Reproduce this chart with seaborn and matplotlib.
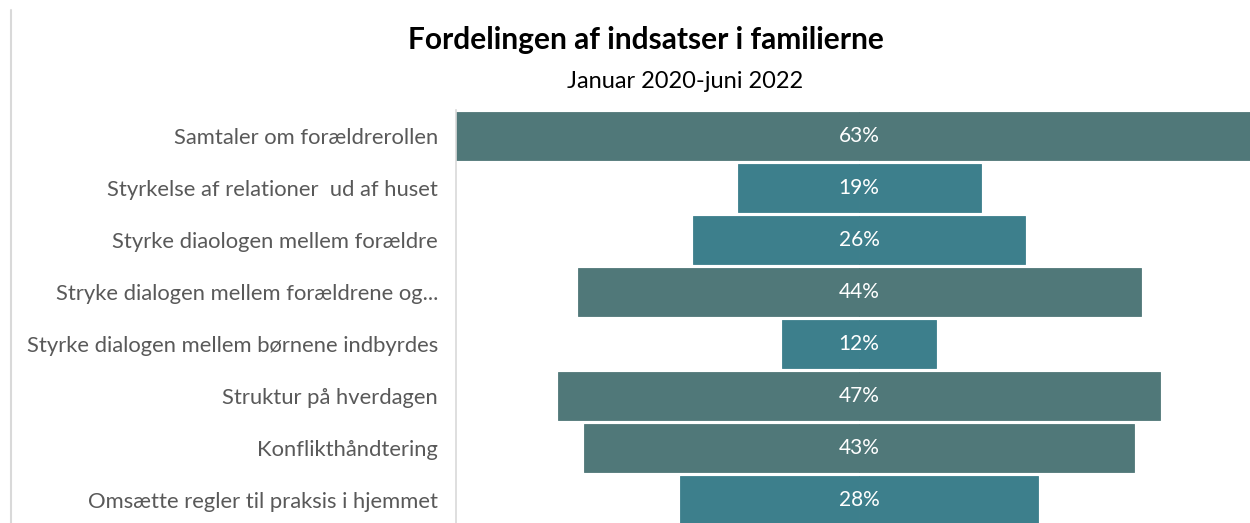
import matplotlib
matplotlib.use("Agg")
import matplotlib.pyplot as plt
import seaborn as sns
import pandas as pd
import numpy as np

categories = [
    "Samtaler om forældrerollen",
    "Styrkelse af relationer  ud af huset",
    "Styrke diaologen mellem forældre",
    "Stryke dialogen mellem forældrene og...",
    "Styrke dialogen mellem børnene indbyrdes",
    "Struktur på hverdagen",
    "Konflikthåndtering",
    "Omsætte regler til praksis i hjemmet",
]
values = [63, 19, 26, 44, 12, 47, 43, 28]
labels = ["63%", "19%", "26%", "44%", "12%", "47%", "43%", "28%"]

dark = "#507879"
light = "#3D7F8C"
bar_colors = [dark, light, light, dark, light, dark, dark, light]

sns.set_theme(style="white")
plt.rcParams["font.family"] = ["Lato", "DejaVu Sans"]

df = pd.DataFrame({"cat": categories, "val": values})
df["half"] = df["val"] / 2
df["neg"] = -df["val"] / 2
palette = dict(zip(categories, bar_colors))

fig = plt.figure(figsize=(12.5, 5.23), dpi=100)
# right side of the funnel runs past the figure edge, as in the source
ax = fig.add_axes([0.3648, -0.0057, 0.645, 0.7954])

# funnel: each bar drawn as two halves around zero
for col in ["half", "neg"]:
    sns.barplot(data=df, x=col, y="cat", hue="cat", palette=palette,
                orient="h", width=0.93, legend=False, ax=ax,
                linewidth=0.6, edgecolor=None, saturation=1)
for p in ax.patches:
    p.set_edgecolor(p.get_facecolor())

for i, (v, lab) in enumerate(zip(values, labels)):
    ax.text(0, i, lab, color="white", ha="center", va="center", fontsize=15)

ax.set_xlim(-31.5, 31.5)
ax.set_ylim(7.5, -0.5)
ax.set_xlabel("")
ax.set_ylabel("")
ax.set_xticks([])
ax.tick_params(axis="y", length=0, pad=13, labelsize=15.8, labelcolor="#595959")
sns.despine(ax=ax, left=False, bottom=True)
ax.spines["left"].set_color("#d9d9d9")
ax.spines["left"].set_linewidth(1.2)

fig.text(0.517, 0.923, "Fordelingen af indsatser i familierne", ha="center",
         va="center", fontsize=21.5, fontweight="bold", color="black")
fig.text(0.548, 0.845, "Januar 2020-juni 2022", ha="center", va="center",
         fontsize=17, color="black")

fig.add_artist(plt.Line2D([0.0085, 0.0085], [0.0, 0.98], color="#d9d9d9",
                          linewidth=1.5, transform=fig.transFigure))

fig.savefig("out.png", dpi=100, facecolor="white")
